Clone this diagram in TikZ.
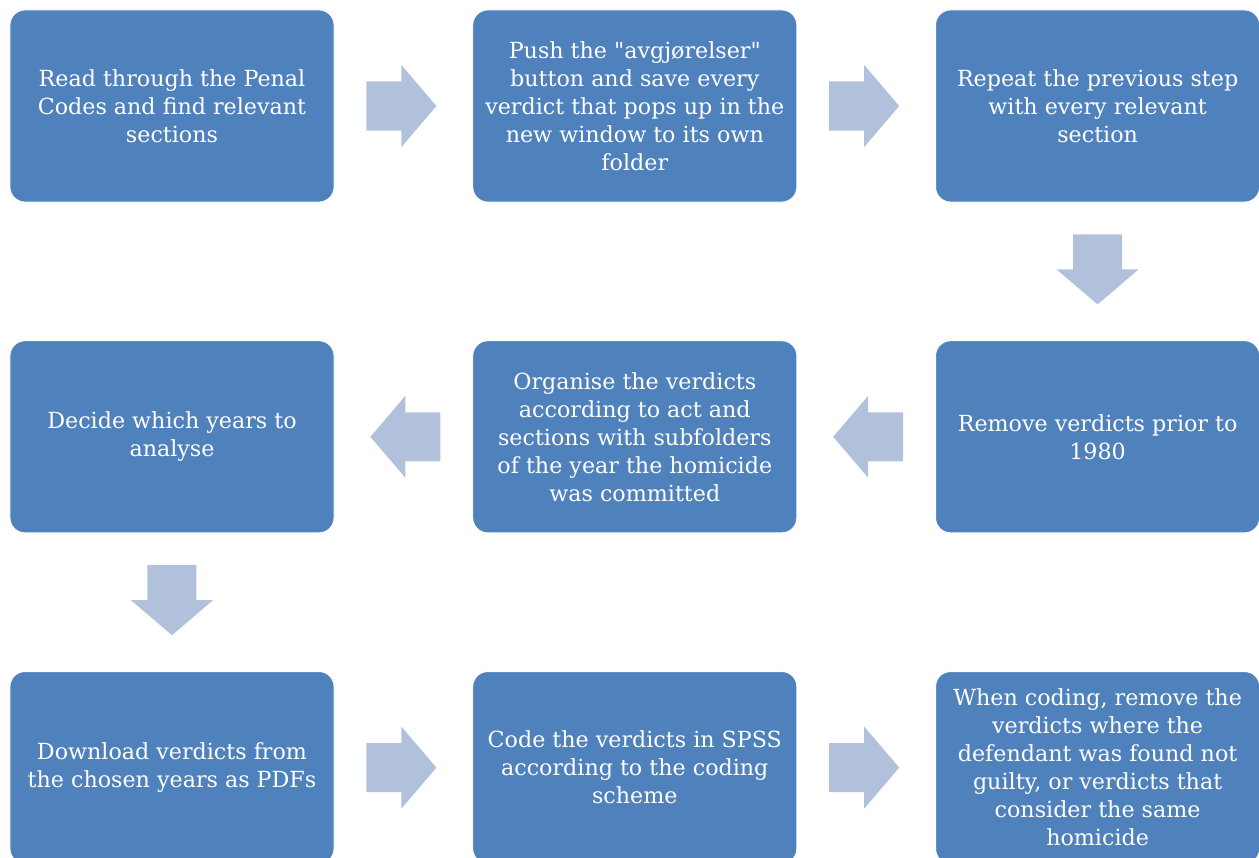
\documentclass[tikz,border=0pt]{standalone}
\usepackage{xcolor}
\usepackage{fontspec}
\setmainfont{DejaVu Serif}
\usepackage{tikz}
\usetikzlibrary{positioning,calc}
\definecolor{stepblue}{HTML}{4F81BD}
\definecolor{arrowblue}{HTML}{B2C1DB}
\newcommand{\flowarrow}[3]{%
  \begin{scope}[shift={($(#1)!0.5!(#2)$)}, rotate=#3]
    \fill[arrowblue] (-37,-24.5) -- (-2,-24.5) -- (-2,-41) -- (33,0) -- (-2,41) -- (-2,24.5) -- (-37,24.5) -- cycle;
  \end{scope}}

\begin{document}
\begin{tikzpicture}[
        x=1bp, y=1bp,
        node distance=138bp,
        stepbox/.style={draw=white, line width=0.8bp, fill=stepblue, rounded corners=15bp, minimum width=324bp, minimum height=192bp, align=center, text=white, inner sep=0pt, font=\fontsize{22.2bp}{28bp}\selectfont}
    ]
        \useasboundingbox (-172,106) rectangle (1087,-752);

        % First row (left to right)
        \node[stepbox] (read) at (0,0) {Read through the Penal\\Codes and find relevant\\sections};
        \node[stepbox] (push) [right=of read] {Push the \textquotedbl avgjørelser\textquotedbl\\button and save every\\verdict that pops up in the\\new window to its own\\folder};
        \node[stepbox] (repeat) [right=of push] {Repeat the previous step\\with every relevant\\section};

        % Second row (right to left)
        \node[stepbox] (remove) [below=of repeat] {Remove verdicts prior to\\1980};
        \node[stepbox] (organise) [left=of remove] {Organise the verdicts\\according to act and\\sections with subfolders\\of the year the homicide\\was committed};
        \node[stepbox] (decide) [left=of organise] {Decide which years to\\analyse};

        % Third row (left to right)
        \node[stepbox] (download) [below=of decide] {Download verdicts from\\the chosen years as PDFs};
        \node[stepbox] (code) [right=of download] {Code the verdicts in SPSS\\according to the coding\\scheme};
        \node[stepbox] (exclude) [right=of code] {When coding, remove the\\verdicts where the\\defendant was found not\\guilty, or verdicts that\\consider the same\\homicide};

        % Block arrows between the steps
        \flowarrow{read}{push}{0}
        \flowarrow{push}{repeat}{0}
        \flowarrow{repeat}{remove}{-90}
        \flowarrow{remove}{organise}{180}
        \flowarrow{organise}{decide}{180}
        \flowarrow{decide}{download}{-90}
        \flowarrow{download}{code}{0}
        \flowarrow{code}{exclude}{0}
    \end{tikzpicture}
\end{document}
